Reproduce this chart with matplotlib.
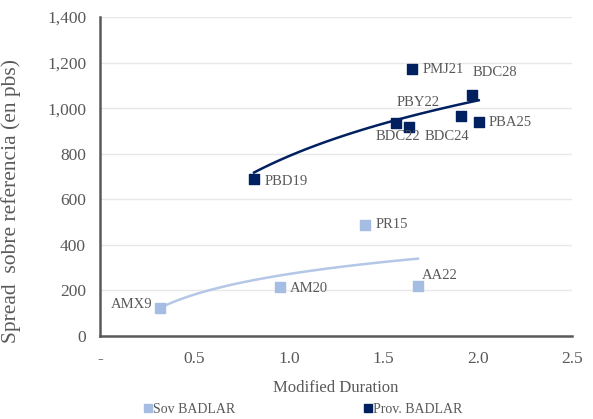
import numpy as np
import matplotlib
matplotlib.use("Agg")
import matplotlib.pyplot as plt
from matplotlib.lines import Line2D
from matplotlib.ticker import FuncFormatter, MultipleLocator

# Prov. BADLAR
prov_names = ["PBD19", "PMJ21", "BDC28", "BDC22", "PBY22", "BDC24", "PBA25"]
prov_dur = [0.816, 1.651, 1.969, 1.568, 1.638, 1.912, 2.006]
prov_spread = [689, 1172, 1058, 936, 916, 966, 938]

# Sov BADLAR
sov_names = ["AMX9", "AM20", "PR15", "AA22"]
sov_dur = [0.316, 0.953, 1.404, 1.684]
sov_spread = [121, 215, 489, 219]

# label offsets in pixels (dx, dy, ha)
prov_offsets = [(11, -2, "left"), (11, -1, "left"), (1, 22, "left"),
                (2, -14, "center"), (9, 25, "center"), (-14, -21, "center"),
                (10, 0, "left")]
sov_offsets = [(-7, 4, "right"), (10, -1, "left"), (11, 0, "left"), (4, 11, "left")]

dark = "#002060"
light = "#a6bde3"
light_line = "#b4c7e7"
grey = "#595959"

plt.rcParams['font.family'] = ['Liberation Serif', 'DejaVu Serif']

fig = plt.figure(figsize=(5.93, 4.19), dpi=100, facecolor='w')
ax = fig.add_axes([0.1686, 0.198, 0.796, 0.7614])


def log_trend(x, y):
    x = np.asarray(x)
    b, a = np.polyfit(np.log(x), y, 1)
    xs = np.linspace(x.min(), x.max(), 100)
    return xs, a + b * np.log(xs)


xs, ys = log_trend(sov_dur, sov_spread)
ax.plot(xs, ys, color=light_line, lw=1.8, zorder=2)
xs, ys = log_trend(prov_dur, prov_spread)
ax.plot(xs, ys, color=dark, lw=1.8, zorder=2)

ax.scatter(sov_dur, sov_spread, marker='s', s=48, color=light, zorder=3)
ax.scatter(prov_dur, prov_spread, marker='s', s=48, color=dark, zorder=3)

for n, x, y, (dx, dy, ha) in zip(prov_names, prov_dur, prov_spread, prov_offsets):
    ax.annotate(n, (x, y), xytext=(dx, dy), textcoords='offset pixels',
                ha=ha, va='center', fontsize=10.5, color=grey)
for n, x, y, (dx, dy, ha) in zip(sov_names, sov_dur, sov_spread, sov_offsets):
    ax.annotate(n, (x, y), xytext=(dx, dy), textcoords='offset pixels',
                ha=ha, va='center', fontsize=10.5, color=grey)

ax.set_xlim(0, 2.5)
ax.set_ylim(0, 1400)
ax.xaxis.set_major_locator(MultipleLocator(0.5))
ax.yaxis.set_major_locator(MultipleLocator(200))
ax.xaxis.set_major_formatter(FuncFormatter(lambda v, p: "-" if v == 0 else "%.1f" % v))
ax.yaxis.set_major_formatter(FuncFormatter(lambda v, p: "{:,.0f}".format(v)))
ax.tick_params(axis='y', length=0, labelsize=12.5, colors=grey, pad=10)
ax.tick_params(axis='x', length=0, labelsize=12.5, colors=grey, pad=11)

ax.grid(axis='y', color='#e8e8e8', lw=1)
ax.set_axisbelow(True)
for s in ['top', 'right']:
    ax.spines[s].set_visible(False)
for s in ['left', 'bottom']:
    ax.spines[s].set_color('#595959')
    ax.spines[s].set_linewidth(1.8)

ax.set_xlabel("Modified Duration", fontsize=12, color=grey, labelpad=9)
ax.set_ylabel("Spread  sobre referencia (en pbs)", fontsize=15.5, color=grey)
ax.yaxis.set_label_coords(-0.168, 0.423)

# legend, one entry per series
for lbl, col, xpos in [("Sov BADLAR", light, 0.316), ("Prov. BADLAR", dark, 0.693)]:
    h = Line2D([], [], marker='s', ls='', color=col, markersize=6)
    leg = fig.legend(handles=[h], labels=[lbl], loc='center', bbox_to_anchor=(xpos, 0.022),
                     frameon=False, fontsize=10, handletextpad=-0.3, handlelength=1.2,
                     borderpad=0)
    for t in leg.get_texts():
        t.set_color(grey)

fig.savefig("out.png", dpi=100)
